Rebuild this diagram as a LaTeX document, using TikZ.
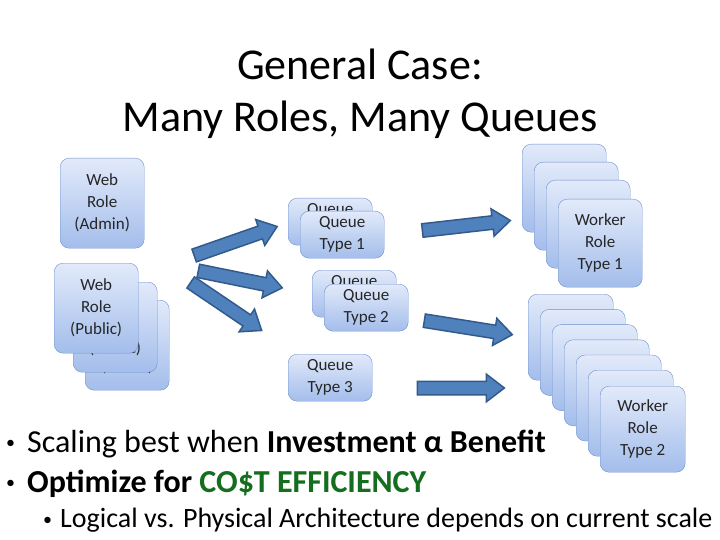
\documentclass[tikz,border=0pt]{standalone}
\usepackage{fontspec}
\setmainfont{Carlito}
\usetikzlibrary{arrows.meta,positioning,calc,shapes.arrows}
\definecolor{boxtop}{RGB}{226,234,250}
\definecolor{boxbot}{RGB}{163,189,235}
\definecolor{boxline}{RGB}{110,145,205}
\definecolor{arrowfill}{RGB}{79,129,189}
\definecolor{arrowline}{RGB}{52,90,140}
\definecolor{costgreen}{RGB}{20,110,30}

\tikzset{
  rolebox/.style={draw=boxline, rounded corners=9pt, top color=boxtop, bottom color=boxbot,
    anchor=north west, minimum width=84pt, minimum height=90pt, align=center,
    font=\fontsize{17}{22}\selectfont, text=black!85,
    execute at begin node={\rule{0pt}{19pt}}},
  queuebox/.style={rolebox, minimum height=47pt},
  blockarrow/.style={single arrow, draw=arrowline, fill=arrowfill, line width=1.5pt,
    inner xsep=0pt, inner ysep=6pt, single arrow head extend=7pt,
    single arrow tip angle=75, sloped},
  bulletline/.style={anchor=base west, inner sep=0pt},
}
\newcommand\blockarrow[2]{%
  \path let \p1=($(#2)-(#1)$), \n1={veclen(\x1,\y1)} in
    (#1) -- node[blockarrow, minimum height=\n1] {} (#2);}
\newcommand\dotmark[2]{\makebox[#1][l]{\raisebox{#2}{\fontsize{18}{18}\selectfont\textbullet}}}

\begin{document}
\begin{tikzpicture}[x=1pt, y=-1pt]
  \useasboundingbox (0,0) rectangle (720,540);

  % title
  \node[anchor=base, font=\fontsize{44}{52}\selectfont] (title1) at (360,80) {General Case:};
  \node[anchor=base, font=\fontsize{44}{52}\selectfont] (title2) at (360,132) {Many Roles, Many Queues};

  % web roles
  \node[rolebox] (admin) at (60,158) {Web\\Role\\(Admin)};
  \node[rolebox] (public3) at (85,300) {Web\\Role\\(Public)};
  \node[rolebox] (public2) at (73,282) {Web\\Role\\(Public)};
  \node[rolebox] (public1) at (54,263) {Web\\Role\\(Public)};

  % queues
  \node[queuebox] (queue1b) at (288,198) {Queue\\Type 1};
  \node[queuebox] (queue1) at (300,211) {Queue\\Type 1};
  \node[queuebox] (queue2b) at (312,270) {Queue\\Type 2};
  \node[queuebox] (queue2) at (324,284) {Queue\\Type 2};
  \node[queuebox] (queue3) at (288,354) {Queue\\Type 3};

  % worker roles
  \foreach \i in {0,...,2}
    \node[rolebox, minimum height=88pt] (workerA\i) at (522+12*\i,144+18*\i) {};
  \node[rolebox, minimum height=88pt] (workerA3) at (558,199) {Worker\\Role\\Type 1};
  \foreach \i in {0,...,5}
    \node[rolebox, minimum width=85pt, minimum height=86pt] (workerB\i) at (528+12*\i,294+15.2*\i) {};
  \node[rolebox, minimum width=85pt, minimum height=86pt] (workerB6) at (600,386) {Worker\\Role\\Type 2};

  % block arrows
  \coordinate (fan1s) at (190,257);
  \coordinate (fan1e) at (273,228);
  \coordinate (fan2s) at (194,270);
  \coordinate (fan2e) at (278,287);
  \coordinate (fan3s) at (187,280);
  \coordinate (fan3e) at (258,328);
  \coordinate (out1s) at (418,231);
  \coordinate (out1e) at (506,221);
  \coordinate (out2s) at (420,320);
  \coordinate (out2e) at (508,334);
  \coordinate (out3s) at (413,388);
  \coordinate (out3e) at (500,388);
  \blockarrow{fan3s}{fan3e}
  \blockarrow{fan2s}{fan2e}
  \blockarrow{fan1s}{fan1e}
  \blockarrow{out1s}{out1e}
  \blockarrow{out2s}{out2e}
  \blockarrow{out3s}{out3e}

  % bullets
  \node[bulletline, font=\fontsize{32}{36}\selectfont] (bullet1) at (6,452)
    {\dotmark{21pt}{4pt}Scaling best when \textbf{Investment α Benefit}};
  \node[bulletline, font=\fontsize{32}{36}\selectfont] (bullet2) at (6,492)
    {\dotmark{21pt}{4pt}\textbf{Optimize for \textcolor{costgreen}{CO\$T EFFICIENCY}}};
  \node[bulletline, font=\fontsize{28}{32}\selectfont] (bullet3) at (43,527)
    {\dotmark{17pt}{2pt}Logical vs. Physical Architecture depends on current scale};
\end{tikzpicture}
\end{document}
